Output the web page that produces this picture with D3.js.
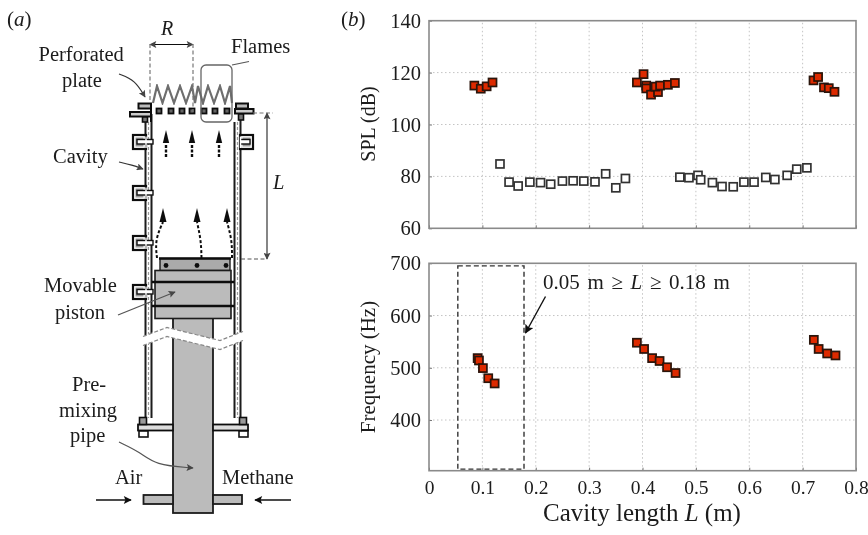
<!DOCTYPE html>
<html>
<head>
<meta charset="utf-8">
<script src="https://cdn.jsdelivr.net/npm/d3@7"></script>
<style>
  html, body { margin: 0; padding: 0; background: #fff; }
  text { font-family: "Liberation Serif", serif; fill: #1a1a1a; }
</style>
</head>
<body>
<div id="chart"></div>
<script>
// ====================== values ===============
const xTicks = [0, 0.1, 0.2, 0.3, 0.4, 0.5, 0.6, 0.7, 0.8];
const splTicks = [60, 80, 100, 120, 140];
const freqTicks = [400, 500, 600, 700];

const splQuietL = [0.133, 0.150, 0.167, 0.189, 0.209, 0.228, 0.250, 0.270, 0.290, 0.311, 0.331, 0.350, 0.368,
    0.470, 0.487, 0.504, 0.509, 0.531, 0.549, 0.570, 0.590, 0.609, 0.631, 0.648, 0.671, 0.689, 0.708];
const splQuiet = [84.8, 77.8, 76.3, 77.8, 77.6, 77.0, 78.2, 78.3, 78.2, 77.9, 81.0, 75.6, 79.2,
    79.7, 79.5, 80.4, 78.7, 77.6, 76.1, 76.0, 77.8, 77.8, 79.6, 78.8, 80.4, 82.8, 83.3];

const splLoudL = [0.085, 0.097, 0.108, 0.119,
    0.407, 0.407, 0.3895, 0.402, 0.416, 0.429, 0.4245, 0.433, 0.4476, 0.4607,
    0.7204, 0.729, 0.740, 0.749, 0.7597];
const splLoud = [115.0, 113.8, 114.7, 116.2,
    115.0, 113.9, 116.2, 119.4, 111.5, 112.5, 114.6, 115.0, 115.3, 116.0,
    117.0, 118.3, 114.3, 114.0, 112.6];

const freqL = [0.0911, 0.0936, 0.101, 0.111, 0.123,
    0.3895, 0.403, 0.418, 0.432, 0.446, 0.462,
    0.721, 0.730, 0.746, 0.7616];
const freq = [518.5, 514, 499.4, 480, 470,
    548, 536, 518.5, 513, 501, 490,
    553.5, 536, 527.4, 523.6];

const boxL = [0.054, 0.178];
const boxFreq = [306, 695];

// ====================== page ===============
const svg = d3.select('#chart')
    .append('svg')
    .attr('width', 868)
    .attr('height', 535)
    .style('display', 'block');

const defs = svg.append('defs');
defs.append('filter').attr('id', 'soft')
    .attr('x', 0).attr('y', 0).attr('width', 1).attr('height', 1)
    .attr('filterUnits', 'objectBoundingBox')
    .append('feGaussianBlur').attr('stdDeviation', 0.45);
defs.append('filter').attr('id', 'softer')
    .append('feGaussianBlur').attr('stdDeviation', 0.5);

const addHead = (id, color, w, h) => {
    defs.append('marker').attr('id', id)
        .attr('viewBox', '0 0 10 10').attr('refX', 9).attr('refY', 5)
        .attr('markerUnits', 'userSpaceOnUse')
        .attr('markerWidth', w).attr('markerHeight', h)
        .attr('orient', 'auto-start-reverse')
        .append('path').attr('d', 'M0,0L10,5L0,10L2,5Z').attr('fill', color);
};
addHead('head', '#111', 11, 8);
addHead('headGrey', '#444', 9, 7);
addHead('headBig', '#111', 14, 9);

const root = svg.append('g').attr('filter', 'url(#soft)');
root.append('rect').attr('width', 868).attr('height', 535).attr('fill', '#fff');

// ====================== panel b ===============
const x = d3.scaleLinear().domain([0, 0.8]).range([429, 856]);
const ySpl = d3.scaleLinear().domain([60, 140]).range([228.3, 20.7]);
const yFreq = d3.scaleLinear().domain([303, 700]).range([470.7, 263.3]);

const drawPanel = (y, ticks, showX) => {
    const g = root.append('g');
    const [bottom, top] = y.range();

    // grid
    g.selectAll('.gx').data(xTicks.slice(1, -1)).enter().append('line')
        .attr('x1', d => x(d)).attr('x2', d => x(d))
        .attr('y1', bottom).attr('y2', top)
        .attr('stroke', '#c4c4c4').attr('stroke-width', 1).attr('stroke-dasharray', '1.5 2.5');
    g.selectAll('.gy').data(ticks.filter(d => y(d) > top + 1 && y(d) < bottom - 1)).enter().append('line')
        .attr('x1', 429).attr('x2', 856)
        .attr('y1', d => y(d)).attr('y2', d => y(d))
        .attr('stroke', '#c4c4c4').attr('stroke-width', 1).attr('stroke-dasharray', '1.5 2.5');

    const left = g.append('g').attr('transform', 'translate(429,0)')
        .call(d3.axisLeft(y).tickValues(ticks).tickSize(-3).tickPadding(8));
    left.select('.domain').remove();
    left.selectAll('line').attr('stroke', '#777');
    left.selectAll('text').style('font-size', '20.5px').attr('fill', '#1a1a1a')
        .style('font-family', '"Liberation Serif", serif');

    const bot = g.append('g').attr('transform', `translate(0,${bottom})`)
        .call(d3.axisBottom(x).tickValues(xTicks).tickSize(-3).tickPadding(9)
            .tickFormat(d => d === 0 ? '0' : d3.format('.1f')(d)));
    bot.select('.domain').remove();
    bot.selectAll('line').attr('stroke', '#777');
    if (showX) {
        bot.selectAll('text').style('font-size', '19.5px').attr('fill', '#1a1a1a')
            .style('font-family', '"Liberation Serif", serif');
    } else {
        bot.selectAll('text').remove();
    }

    g.append('rect')
        .attr('x', 429).attr('y', top)
        .attr('width', 427).attr('height', bottom - top)
        .attr('fill', 'none').attr('stroke', '#8a8a8a').attr('stroke-width', 1.6);
};

drawPanel(ySpl, splTicks, false);
drawPanel(yFreq, freqTicks, true);

const drawSquares = (xs, ys, y, fill, stroke) => {
    root.append('g').selectAll('rect').data(xs).enter().append('rect')
        .attr('x', d => x(d) - 4)
        .attr('y', (d, i) => y(ys[i]) - 4)
        .attr('width', 8).attr('height', 8)
        .attr('fill', fill)
        .attr('stroke', stroke)
        .attr('stroke-width', 1.7);
};
drawSquares(splQuietL, splQuiet, ySpl, '#fff', '#333');
drawSquares(splLoudL, splLoud, ySpl, '#dd2a00', '#2a1208');
drawSquares(freqL, freq, yFreq, '#dd2a00', '#2a1208');

root.append('rect')
    .attr('x', x(boxL[0])).attr('y', yFreq(boxFreq[1]))
    .attr('width', x(boxL[1]) - x(boxL[0]))
    .attr('height', yFreq(boxFreq[0]) - yFreq(boxFreq[1]))
    .attr('fill', 'none').attr('stroke', '#333').attr('stroke-width', 1.4)
    .attr('stroke-dasharray', '5 3');

const seg = (pts, stroke = '#111', width = 1, extra = {}) => {
    const p = root.append('path')
        .attr('d', (extra.curve ? d3.line().curve(extra.curve) : d3.line())(pts))
        .attr('fill', extra.fill || 'none')
        .attr('stroke', stroke)
        .attr('stroke-width', width);
    if (extra.dash) p.attr('stroke-dasharray', extra.dash);
    if (extra.head) p.attr('marker-end', `url(#${extra.head})`);
    if (extra.both) p.attr('marker-start', `url(#${extra.both})`).attr('marker-end', `url(#${extra.both})`);
    return p;
};

seg([[545.5, 296.5], [525.5, 333]], '#111', 1.4, { head: 'headBig' });

const label = (str, px, py, size, opts = {}) => {
    const t = root.append('text')
        .attr('x', px).attr('y', py)
        .style('font-size', size + 'px')
        .attr('text-anchor', opts.anchor || 'start');
    if (opts.rotate) t.attr('transform', `rotate(-90 ${px} ${py})`);
    if (opts.wordSpacing) t.style('word-spacing', opts.wordSpacing + 'px');
    str.split('|').forEach((part, i) => {
        t.append('tspan').text(part).style('font-style', i % 2 ? 'italic' : 'normal');
    });
    return t;
};

label('(|b|)', 341, 26, 21);
label('SPL (dB)', 375, 124, 20, { anchor: 'middle', rotate: true });
label('Frequency (Hz)', 375, 367, 21, { anchor: 'middle', rotate: true });
label('Cavity length |L| (m)', 642, 521, 25, { anchor: 'middle' });
label('0.05 m ≥ |L| ≥ 0.18 m', 543, 289, 21, { wordSpacing: 2.4 });

// ====================== panel a, schematic ===============
const rect = (px, py, w, h, fill, stroke = '#1a1a1a', sw = 1.5) =>
    root.append('rect').attr('x', px).attr('y', py).attr('width', w).attr('height', h)
        .attr('fill', fill).attr('stroke', stroke).attr('stroke-width', sw);

// walls
[[145.5, 151.5], [234.5, 240.5]].forEach(([a, b]) => {
    seg([[a, 122], [a, 418]], '#1a1a1a', 2);
    seg([[b, 114], [b, 418]], '#1a1a1a', 2);
    seg([[(a + b) / 2, 122], [(a + b) / 2, 418]], '#999', 1.2, { dash: '3 2' });
});

// ports on the wall
const port = (py, side) => {
    const left = side === 'l';
    rect(left ? 133 : 240, py, 13, 14, '#fff', '#111', 2.2);
    rect(left ? 135.5 : 242.5, py + 2.5, 8, 9, '#999', 'none', 0);
    rect(left ? 137 : 240, py + 4.5, left ? 16 : 10, 4.5, '#fff', '#111', 1.4);
    seg(left ? [[146, py + 1.5], [146, py + 13]] : [[240.5, py + 1.5], [240.5, py + 13]], '#fff', 1.4);
};
port(135, 'l');
port(186, 'l');
port(236, 'l');
port(285, 'l');
port(135, 'r');

// top flanges
rect(138.5, 103.5, 12.5, 5, '#bbb', '#111', 2);
rect(130, 112, 21, 4.5, '#ccc', '#111', 2);
rect(142.5, 117, 5, 5, '#777', '#111', 1.6);
seg([[151, 108], [151, 122]], '#111', 2);
rect(236, 103.5, 12, 5, '#bbb', '#111', 2);
rect(235, 109, 18.5, 4.5, '#ccc', '#111', 2);
rect(238.5, 114, 5, 6, '#777', '#111', 1.6);

// flames
const flameX = [153, 157, 162.5, 168, 174, 180, 186, 192, 195, 198, 203, 208, 214, 220, 225, 230, 232];
const flames = flameX.map((d, i) => [d, i % 2 ? 86 : 103]);
root.append('path').attr('d', d3.line()(flames))
    .attr('fill', 'none').attr('stroke', '#6e6e6e').attr('stroke-width', 2.2)
    .attr('filter', 'url(#softer)');

// perforated plate
[159, 171, 182, 192, 204, 215, 227].forEach(d => rect(d - 2.5, 108.5, 5, 5, '#666', '#111', 1.8));

// flames box
root.append('rect').attr('x', 201).attr('y', 65).attr('width', 31).attr('height', 57).attr('rx', 5)
    .attr('fill', 'none').attr('stroke', '#666').attr('stroke-width', 1.3);
seg([[232, 65], [249, 61.5]], '#555', 1.2);

// R
seg([[150, 44.5], [193, 44.5]], '#111', 1, { both: 'headGrey' });
seg([[150, 44], [150, 100]], '#777', 1.2, { dash: '4 2.5' });
seg([[193, 44], [193, 112]], '#777', 1.2, { dash: '4 2.5' });

// L
seg([[267, 113], [267, 259]], '#222', 1.1, { both: 'headGrey' });
seg([[253, 113], [273, 113]], '#777', 1.1, { dash: '4 2.5' });
seg([[241, 259], [267, 259]], '#555', 1.1, { dash: '4 2.5' });

// flow arrows
[166, 192, 219].forEach(d => {
    root.append('path').attr('d', `M${d},130L${d + 3.2},143L${d - 3.2},143Z`).attr('fill', '#111');
    seg([[d, 145], [d, 157]], '#111', 2.4, { dash: '3 1.5' });
});
[[[157, 258], [155, 240], [163, 222]], [[201.5, 258], [201, 240], [197, 222]], [[232, 258], [232, 240], [227, 222]]]
    .forEach(pts => {
        seg(pts, '#111', 2, { curve: d3.curveBasis, dash: '3 2' });
        const [hx, hy] = pts[2];
        root.append('path').attr('d', `M${hx},208L${hx + 3.5},222L${hx - 3.5},222Z`).attr('fill', '#111');
    });

// pipe
rect(173, 318, 40, 195, '#bbb', '#1a1a1a', 1.8);
rect(143.5, 495, 29.5, 9, '#bbb', '#1a1a1a', 1.8);
rect(213, 495, 29, 9, '#bbb', '#1a1a1a', 1.8);

// piston
rect(160, 258.5, 70, 12, '#aaa', '#1a1a1a', 1.4);
seg([[159, 258.5], [231, 258.5]], '#111', 2.4);
[166, 197, 226].forEach(d => root.append('circle').attr('cx', d).attr('cy', 265.5).attr('r', 2.4).attr('fill', '#111'));
rect(155, 270.5, 76, 48, '#bbb', '#1a1a1a', 1.6);
seg([[152, 282], [234, 282]], '#111', 2.4);
seg([[152, 306], [234, 306]], '#111', 2.4);

// bottom flange
[[138, 173, 143], [213, 248, 243]].forEach(([a, b, bolt]) => {
    rect(a, 424.5, b - a, 6, '#ddd', '#111', 1.8);
    rect(bolt - 3.5, 417.5, 7, 7, '#999', '#111', 1.6);
    rect(bolt - 4, 431, 9, 6, '#fff', '#111', 1.6);
});

// broken section
const breakLine = [[143, 341], [167, 332], [220, 345], [243, 336]];
seg(breakLine, '#fff', 9);
seg(breakLine.map(([a, b]) => [a, b - 4.5]), '#888', 1.2, { dash: '4 2' });
seg(breakLine.map(([a, b]) => [a, b + 4.5]), '#888', 1.2, { dash: '4 2' });

// gas arrows
seg([[96, 500], [131, 500]], '#111', 1.3, { head: 'head' });
seg([[291, 500], [255, 500]], '#111', 1.3, { head: 'head' });

// leaders
seg([[119, 74], [135, 80], [145, 97]], '#333', 1.2, { curve: d3.curveBasis, head: 'headGrey' });
seg([[119, 162], [132, 165], [143, 169]], '#333', 1.2, { curve: d3.curveBasis, head: 'headGrey' });
seg([[118, 315], [175, 292]], '#555', 1.3, { head: 'headGrey' });
seg([[119, 442], [140, 452], [155, 465], [193, 468]], '#555', 1.2, { curve: d3.curveBasis, head: 'headGrey' });

label('(|a|)', 7, 26, 21);
label('|R|', 161, 35, 20);
label('Flames', 231, 53, 20.5);
label('Perforated', 38.5, 61, 20.5);
label('plate', 62, 87, 20.5);
label('Cavity', 53, 163, 20.5);
label('|L|', 273, 189, 20.5);
label('Movable', 44, 292, 20.5);
label('piston', 55, 319, 20.5);
label('Pre-', 72, 391, 20.5);
label('mixing', 59, 417, 20.5);
label('pipe', 70, 442, 20.5);
label('Air', 115, 484, 20.5);
label('Methane', 222, 484, 20.5);
</script>
</body>
</html>
